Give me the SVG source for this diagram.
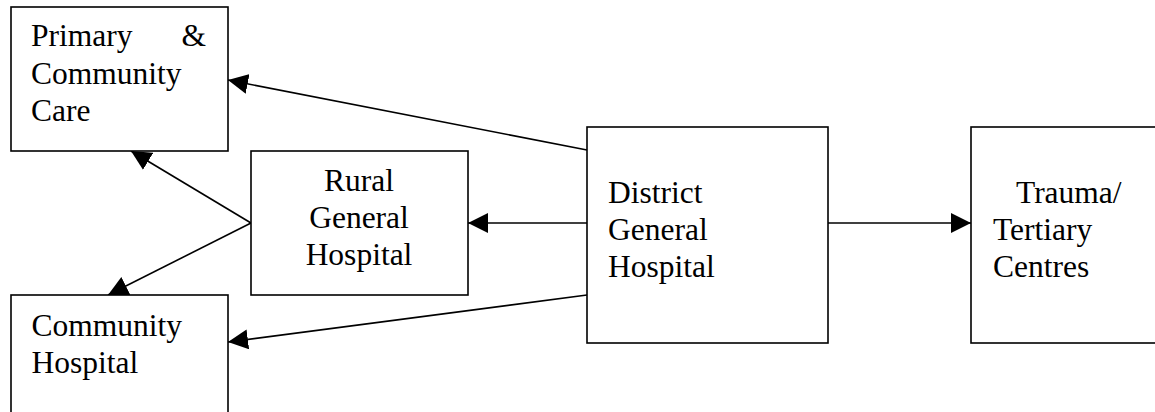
<svg xmlns="http://www.w3.org/2000/svg" width="1155" height="412" viewBox="0 0 1155 412">
<style>
.box{fill:#fff;stroke:#000;stroke-width:1.6}
.t{font-family:"Liberation Serif","Times New Roman",serif;font-size:31.5px;fill:#000}
.c{text-anchor:middle}
.e{text-anchor:end}
.ln{stroke:#000;stroke-width:1.6;fill:none;marker-end:url(#ah)}
</style>
<defs>
<marker id="ah" viewBox="0 0 20 20" refX="20" refY="10" markerWidth="20" markerHeight="20" markerUnits="userSpaceOnUse" orient="auto">
<path d="M0,0 L20,10 L0,20 Z" fill="#000"/>
</marker>
</defs>
<rect width="1155" height="412" fill="#fff"/>
<g id="connectors">
<line class="ln" x1="587" y1="150" x2="228" y2="80"/>
<line class="ln" x1="587" y1="223" x2="468" y2="223"/>
<line class="ln" x1="587" y1="295" x2="228" y2="342"/>
<line class="ln" x1="828" y1="223" x2="971" y2="223"/>
<line class="ln" x1="251" y1="223" x2="131" y2="151"/>
<line class="ln" x1="251" y1="223" x2="108" y2="295"/>
</g>
<g id="primary">
<rect class="box" x="11" y="7" width="217" height="144"/>
<text class="t" x="31" y="46">Primary</text>
<text class="t e" x="206" y="46">&amp;</text>
<text class="t" x="31" y="83.5">Community</text>
<text class="t" x="31" y="121">Care</text>
</g>
<g id="rural">
<rect class="box" x="251" y="151" width="217" height="144"/>
<text class="t c" x="359" y="191">Rural</text>
<text class="t c" x="359" y="228">General</text>
<text class="t c" x="359" y="265">Hospital</text>
</g>
<g id="community">
<rect class="box" x="11" y="295" width="217" height="140"/>
<text class="t" x="31.5" y="336">Community</text>
<text class="t" x="31.5" y="373">Hospital</text>
</g>
<g id="district">
<rect class="box" x="587" y="127" width="241" height="216"/>
<text class="t" x="608" y="203">District</text>
<text class="t" x="608" y="240">General</text>
<text class="t" x="608" y="277">Hospital</text>
</g>
<g id="trauma">
<rect class="box" x="971" y="127" width="220" height="216"/>
<text class="t" x="1016" y="203">Trauma/</text>
<text class="t" x="993" y="240">Tertiary</text>
<text class="t" x="993" y="277">Centres</text>
</g>
</svg>
